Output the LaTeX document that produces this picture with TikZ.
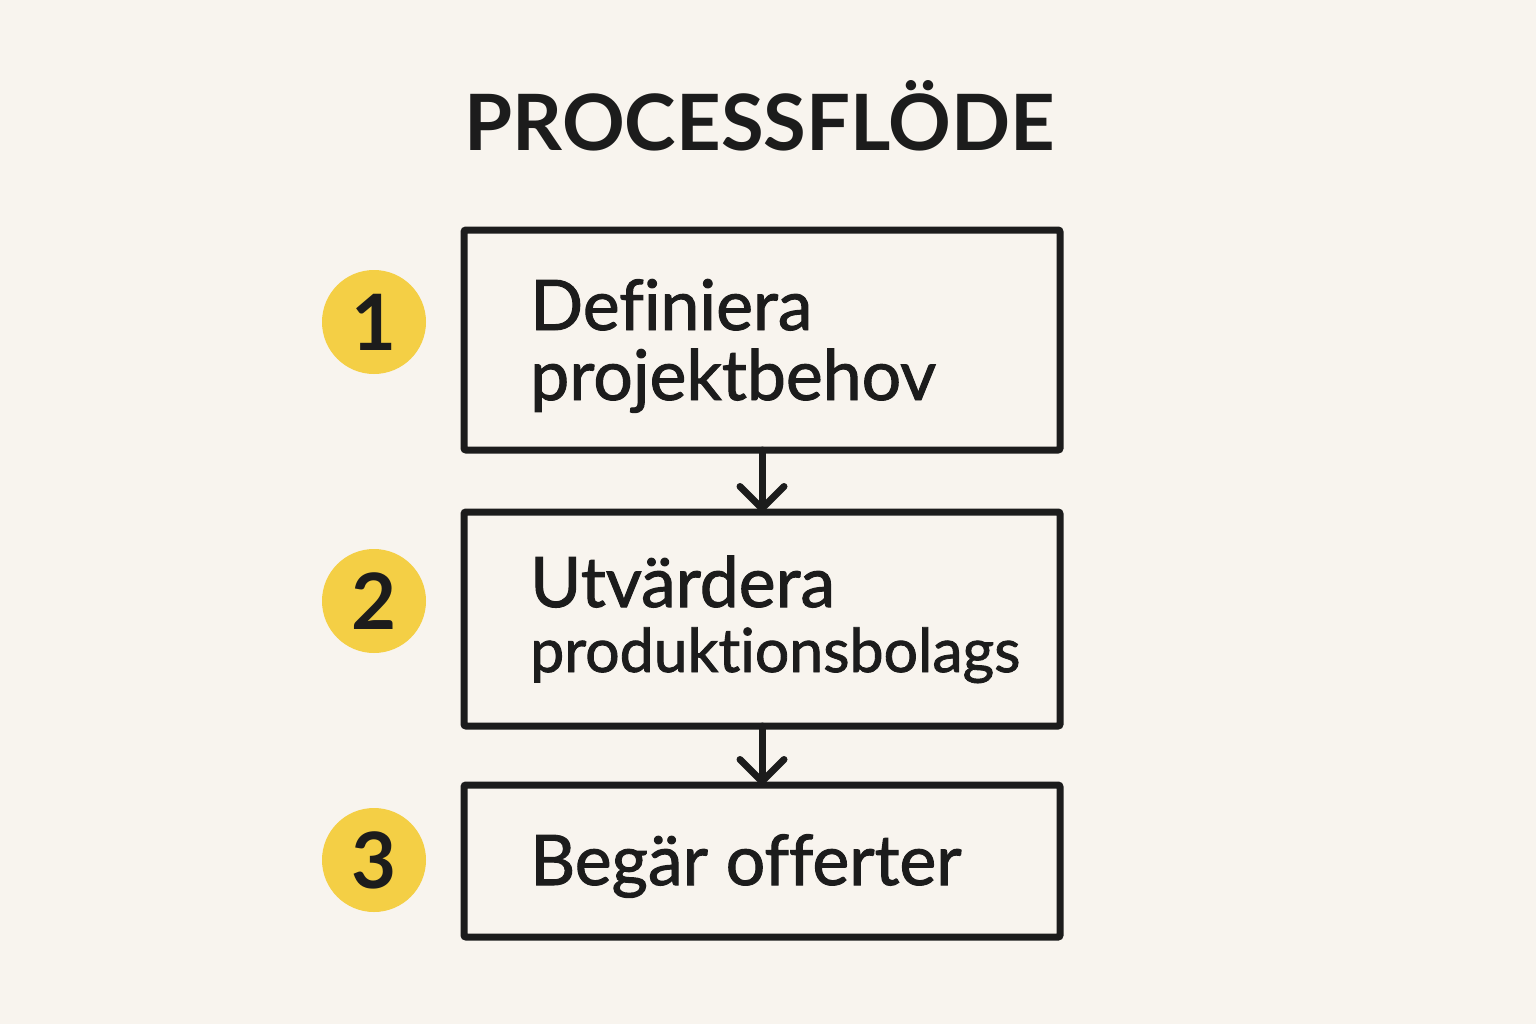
\documentclass[tikz,border=0pt]{standalone}
\usepackage{fontspec}
\setmainfont{Lato}[Ligatures=NoCommon]
\newfontfamily\bodyfont{Lato}[Ligatures=NoCommon, FakeBold=1.4]
\usetikzlibrary{arrows.meta}
\definecolor{bg}{HTML}{F8F4EE}
\definecolor{ylw}{HTML}{F4CF45}
\definecolor{ink}{HTML}{1C1C1C}
\begin{document}
\begin{tikzpicture}[x=1bp,y=-1bp,
  boxnode/.style={draw=ink, line width=7bp, rounded corners=2bp, minimum width=596bp, inner sep=0pt, outer sep=0pt, rectangle},
  numnode/.style={circle, fill=ylw, minimum size=104bp, inner sep=0pt, text=ink, font=\fontsize{78}{80}\selectfont\bfseries},
  lbl/.style={anchor=base west, inner sep=0pt, text=ink, font=\bodyfont\fontsize{70}{84}\selectfont},
  flow/.style={draw=ink, line width=7bp, line cap=round, line join=round, -{Straight Barb[length=22bp,width=44bp,line cap=round,line join=round]}}
]
\fill[bg] (0,0) rectangle (1536,1024);
\useasboundingbox (0,0) rectangle (1536,1024);
\node[anchor=base, inner sep=0pt, text=ink, font=\fontsize{78}{80}\selectfont\bfseries] (title) at (760,150) {PROCESSFLÖDE};
\node[boxnode, minimum height=220bp] (b1) at (762,340) {};
\node[boxnode, minimum height=214bp] (b2) at (762,619) {};
\node[boxnode, minimum height=152bp] (b3) at (762,861) {};
\node[numnode] (n1) at (374,322) {1};
\node[numnode] (n2) at (374,601) {2};
\node[numnode] (n3) at (374,860) {3};
\node[lbl] (t1a) at (530,330) {Definiera};
\node[lbl] (t1b) at (530,400) {projektbehov};
\node[lbl] (t2a) at (530,607) {Utvärdera};
\node[lbl, font=\bodyfont\fontsize{61}{70}\selectfont] (t2b) at (530,672) {produktionsbolags};
\node[lbl] (t3) at (530,885) {Begär offerter};
\draw[flow] (b1.south) -- (b2.north);
\draw[flow] (b2.south) -- (b3.north);
\end{tikzpicture}
\end{document}
